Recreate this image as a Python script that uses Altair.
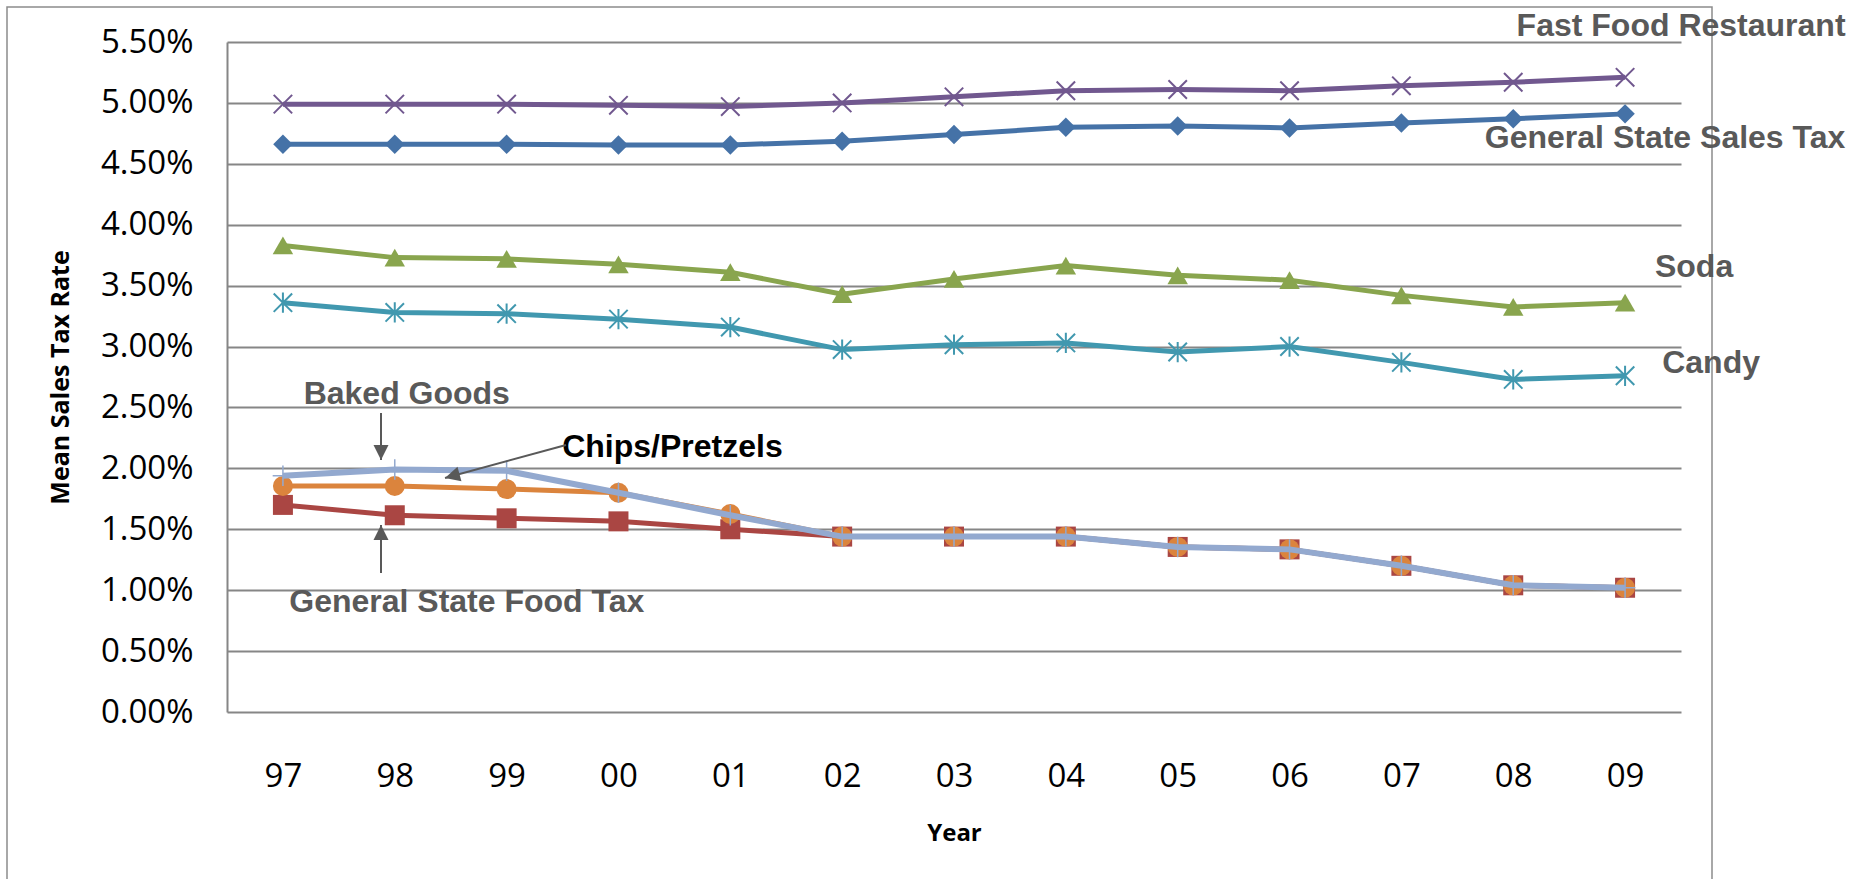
import altair as alt
import pandas as pd

# ---------------- data ----------------
years = ["97", "98", "99", "00", "01", "02", "03", "04", "05", "06", "07", "08", "09"]

gsst = [4.66, 4.66, 4.66, 4.655, 4.655, 4.685, 4.74, 4.80, 4.81, 4.795, 4.835, 4.87, 4.91]
food_tax = [1.70, 1.615, 1.59, 1.565, 1.50, 1.44, 1.44, 1.44, 1.355, 1.335, 1.20, 1.04, 1.02]
soda = [3.83, 3.73, 3.72, 3.675, 3.61, 3.43, 3.555, 3.665, 3.585, 3.545, 3.42, 3.325, 3.36]
fast_food = [4.99, 4.99, 4.99, 4.98, 4.97, 5.00, 5.05, 5.10, 5.11, 5.10, 5.14, 5.17, 5.21]
candy = [3.36, 3.28, 3.27, 3.225, 3.16, 2.975, 3.015, 3.03, 2.955, 3.00, 2.87, 2.73, 2.76]
baked = [1.855, 1.855, 1.83, 1.80, 1.625, 1.44, 1.44, 1.44, 1.355, 1.335, 1.20, 1.04, 1.02]
chips = [1.94, 1.99, 1.98, 1.80, 1.615, 1.44, 1.44, 1.44, 1.355, 1.335, 1.20, 1.04, 1.02]

series_names = ["General State Sales Tax", "General State Food Tax", "Soda",
                "Fast Food Restaurant", "Candy", "Baked Goods", "Chips/Pretzels"]
series_values = [gsst, food_tax, soda, fast_food, candy, baked, chips]

y_ticks = [0.0, 0.5, 1.0, 1.5, 2.0, 2.5, 3.0, 3.5, 4.0, 4.5, 5.0, 5.5]

# annotation labels: text, anchor year, anchor rate, dx, colour
ann_text = ["Fast Food Restaurant", "General State Sales Tax", "Soda", "Candy",
            "Baked Goods", "Chips/Pretzels", "General State Food Tax"]
ann_year = ["09", "09", "09", "09", "98", "00", "98"]
ann_rate = [5.632, 4.712, 3.653, 2.865, 2.610, 2.175, 0.903]
ann_dx = [56, 40, 69, 86, 12, 54, 72]
ann_color = ["#595959", "#595959", "#595959", "#595959", "#595959", "#000000", "#595959"]

# ---------------- styles ----------------
colors = ["#4572A7", "#AA4643", "#89A54E", "#71588F", "#4198AF", "#DB843D", "#93A9CF"]
line_w = [5, 5, 5, 5, 5, 5, 6]
X_PATH = "M-1,-1L1,1M1,-1L-1,1"
STAR_PATH = "M-1,-1L1,1M1,-1L-1,1M0,-1.1L0,1.1"
PLUS_PATH = "M-1,0L1,0M0,-1L0,1"
markers = [
    dict(shape="diamond", filled=True, size=380),
    dict(shape="square", filled=True, size=400),
    dict(shape="triangle-up", filled=True, size=420),
    dict(shape=X_PATH, filled=False, size=340, strokeWidth=2),
    dict(shape=STAR_PATH, filled=False, size=340, strokeWidth=2),
    dict(shape="circle", filled=True, size=400),
    dict(shape=PLUS_PATH, filled=False, size=420, strokeWidth=1.5),
]

rows = []
for name, vals in zip(series_names, series_values):
    for yr, v in zip(years, vals):
        rows.append({"series": name, "year": yr, "rate": v})
df = pd.DataFrame(rows)

FONT = "Open Sans"

x_enc = alt.X(
    "year:O",
    scale=alt.Scale(type="point", domain=years, padding=0.5),
    axis=alt.Axis(title="Year", labelAngle=0, domain=False, ticks=False, grid=False,
                  labelPadding=48, titlePadding=28, labelFont=FONT, labelFontSize=33,
                  labelColor="#000000", titleFont=FONT, titleFontSize=24,
                  titleFontWeight="bold", titleColor="#000000"),
)
y_enc = alt.Y(
    "rate:Q",
    scale=alt.Scale(domain=[0, 5.5], nice=False, zero=True),
    axis=alt.Axis(title="Mean Sales Tax Rate", values=y_ticks,
                  labelExpr="format(datum.value, '.2f') + '%'",
                  grid=True, gridColor="#868686", gridWidth=2,
                  domain=True, domainColor="#868686", domainWidth=2, ticks=False,
                  labelPadding=34, titlePadding=27, labelFont=FONT, labelFontSize=33,
                  labelColor="#000000", titleFont=FONT, titleFontSize=25,
                  titleFontWeight="bold", titleColor="#000000"),
)

one = pd.DataFrame({"a": [0]})

layers = []
# outer frame
layers.append(
    alt.Chart(one).mark_rect(fillOpacity=0, stroke="#8c8c8c", strokeWidth=1.5).encode(
        x=alt.value(-220), x2=alt.value(1485), y=alt.value(-35), y2=alt.value(900))
)

for name, c, w, m in zip(series_names, colors, line_w, markers):
    base = alt.Chart(df).transform_filter(alt.datum.series == name)
    layers.append(base.mark_line(color=c, strokeWidth=w).encode(x=x_enc, y=y_enc))
    pkw = dict(m)
    if pkw["filled"]:
        pkw.update(color=c, opacity=1, fillOpacity=1)
    else:
        pkw.update(color=c, opacity=1)
    layers.append(base.mark_point(**pkw).encode(x=x_enc, y=y_enc))

for t, yr, r, dx, col in zip(ann_text, ann_year, ann_rate, ann_dx, ann_color):
    d = pd.DataFrame({"label": [t], "year": [yr], "rate": [r]})
    layers.append(
        alt.Chart(d).mark_text(font="Liberation Sans", fontWeight="bold", fontSize=32,
                               color=col, dx=dx, align="center", baseline="middle")
        .encode(x=x_enc, y=y_enc, text="label:N")
    )

# arrows (pixel positions relative to plot area)
ARROW = "#595959"
HEAD = "M0,0L-1,-0.5L-1,0.5Z"
arrow_specs = [
    # x1, y1, x2(tip), y2(tip), angle
    (154, 371, 154, 418, 90),
    (339, 403, 218, 436, 164.7),
    (154, 531, 154, 483, 270),
]
for x1, y1, x2, y2, ang in arrow_specs:
    layers.append(
        alt.Chart(one).mark_rule(color=ARROW, strokeWidth=2).encode(
            x=alt.value(x1), y=alt.value(y1), x2=alt.value(x2), y2=alt.value(y2))
    )
    layers.append(
        alt.Chart(one).mark_point(shape=HEAD, filled=True, size=900, color=ARROW,
                                  opacity=1, angle=ang).encode(
            x=alt.value(x2), y=alt.value(y2))
    )

chart = alt.layer(*layers).properties(
    width=1454, height=670,
    padding={"left": 227, "top": 42, "right": 169, "bottom": 167},
    autosize=alt.AutoSizeParams(type="none"),
    background="white",
).configure_view(stroke="transparent")

chart.save("out.html", embed_options={"renderer": "svg", "actions": False})
